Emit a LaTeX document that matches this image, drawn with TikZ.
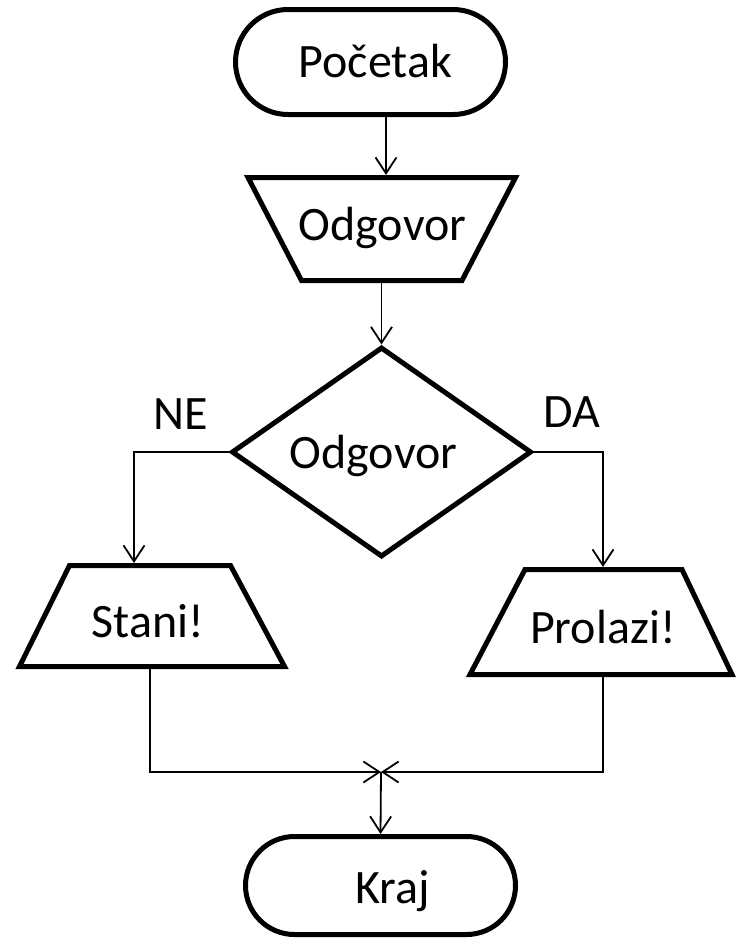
\documentclass[tikz,border=0pt]{standalone}
\usepackage{fontspec}
\setmainfont{Carlito}
\usetikzlibrary{arrows.meta,shapes.geometric,shapes.misc}
\begin{document}
\begin{tikzpicture}[x=1pt,y=-1pt,
  shapeline/.style={draw=black, line width=5pt, line join=miter},
  conn/.style={draw=black, line width=1.8pt},
  arr/.style={conn, -{Straight Barb[length=16pt,width=21pt,line width=1.8pt]}},
  term/.style={rounded rectangle, shapeline, minimum width=270pt, inner sep=0pt},
  txt/.style={font=\fontsize{48}{58}\selectfont, anchor=base, inner sep=0pt}]
\useasboundingbox (0,0) rectangle (736,940);
\fill[white] (0,0) rectangle (736,940);

% terminals
\node[term, minimum height=105pt] (start) at (370.5,62) {};
\node[term, minimum height=98pt] (kraj) at (380.5,885.5) {};

% input trapezium (wide top)
\draw[shapeline] (248,177.5) -- (515.5,177.5) -- (462,280.5) -- (301.5,280.5) -- cycle;
\coordinate (odgIn) at (386,175);
\coordinate (odgOut) at (381.5,283);

% decision
\node[diamond, shapeline, minimum width=300pt, minimum height=210pt, inner sep=0pt] (dec) at (381.5,452) {};

% output trapezia (wide bottom)
\draw[shapeline] (69.5,565.5) -- (230.5,565.5) -- (284.5,666.5) -- (19.5,666.5) -- cycle;
\coordinate (staniIn) at (134,563);
\coordinate (staniOut) at (150,669);
\draw[shapeline] (525,569.5) -- (682,569.5) -- (732,674.5) -- (470,674.5) -- cycle;
\coordinate (prolIn) at (603,567);
\coordinate (prolOut) at (603,677);

\coordinate (j) at (381,772);

% texts
\node[txt] (tStart) at (375.5,77) {Početak};
\node[txt] (tOdg) at (382.5,240) {Odgovor};
\node[txt] (tDec) at (373.5,468) {Odgovor};
\node[txt] (tStani) at (148,637) {Stani!};
\node[txt] (tProl) at (603,643) {Prolazi!};
\node[txt] (tKraj) at (392.5,903) {Kraj};
\node[txt] (tNE) at (181,429) {NE};
\node[txt] (tDA) at (572,427) {DA};

% connectors
\draw[arr] ([xshift=15.5pt]start.south) -- (odgIn);
\draw[arr] (odgOut) -- (dec.north);
\draw[arr] (dec.west) -| (staniIn);
\draw[arr] (dec.east) -| (prolIn);
\draw[arr] (staniOut) |- (j);
\draw[arr] (prolOut) |- (j);
\draw[arr] (j) -- (kraj.north);
\end{tikzpicture}
\end{document}
